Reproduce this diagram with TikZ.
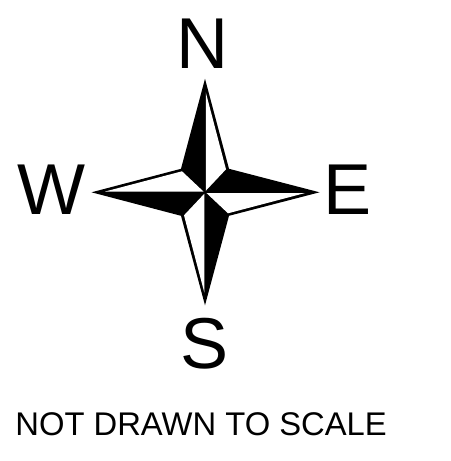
\documentclass[tikz,border=0pt]{standalone}
\usepackage{fontspec}
\setmainfont{Liberation Sans}
\tikzset{
  starbody/.style={fill=black},
  whitepart/.style={fill=white},
  point/.style={font=\fontsize{41}{41}\selectfont, inner sep=0pt}
}
\begin{document}
\begin{tikzpicture}
\useasboundingbox (-4.1,-5.374) rectangle (4.9,3.846);
\coordinate (O) at (0,0);
% black star first, white halves on top
\fill[starbody] (2.29,0) -- (0.48,0.47) -- (0,2.27) -- (-0.48,0.47) -- (-2.27,0)
  -- (-0.48,-0.47) -- (0,-2.26) -- (0.48,-0.47) -- cycle;
\foreach \ang in {0,90,180,270} {
  \begin{scope}[rotate=\ang]
    \fill[whitepart] (0.03,-0.015) -- (2.0,-0.015) -- (0.46,-0.42) -- cycle;
  \end{scope}
}
\node[point] (N) at (-0.05,2.97) {N};
\node[point] (W) at (-3.06,0.05) {W};
\node[point] (E) at (2.85,0.05) {E};
\node[point] (S) at (-0.01,-3.03) {S};
\node[font=\fontsize{18.65}{18.65}\selectfont, inner sep=0pt, anchor=west] (note) at (-3.8,-4.63) {NOT DRAWN TO SCALE};
\end{tikzpicture}
\end{document}
